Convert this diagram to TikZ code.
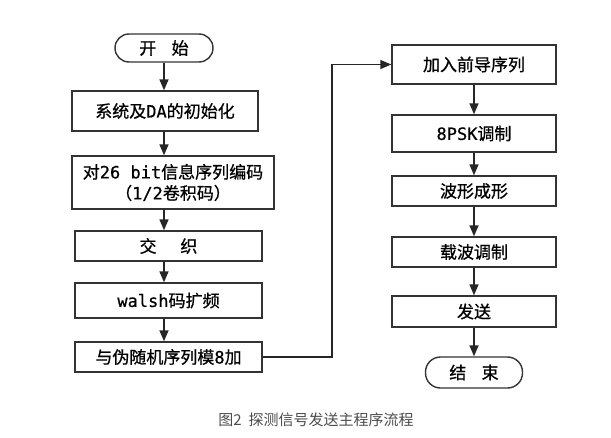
\documentclass[tikz,border=0pt]{standalone}
\usepackage{fontspec}
\setmainfont{Noto Sans CJK SC}
\newfontfamily\cjk{Noto Sans CJK SC}[FakeBold=0.8]
\newfontfamily\capfont{Noto Sans CJK SC}
\newfontfamily\lat{DejaVu Sans Mono}[FakeBold=0.6]
\usetikzlibrary{arrows.meta,positioning}
\tikzset{
  box/.style={draw=black!80, line width=1.4pt, fill=white, inner sep=0pt, align=center, font=\cjk\fontsize{17}{21}\selectfont},
  term/.style={box, rounded corners=14pt},
  arr/.style={draw=black!85, line width=1.4pt, -{Triangle[length=11pt,width=9pt]}},
}
\begin{document}
\begin{tikzpicture}[x=1pt,y=-1pt]
\path[fill=white] (0,0) rectangle (611,437);
\useasboundingbox (0,0) rectangle (611,437);
% left column
\node[term, minimum width=98pt, minimum height=28pt] (start) at (164,48) {开\hspace{0.9em}始};
\node[box, minimum width=186pt, minimum height=40pt] (b1) at (165,111) {系统及{\lat DA}的初始化};
\node[box, minimum width=202pt, minimum height=53pt] (b2) at (173,182.5) {对{\lat 26 bit}信息序列编码\\（{\lat 1/2}卷积码）};
\node[box, minimum width=187pt, minimum height=30pt] (b3) at (168.5,246) {交\hspace{1.4em}织};
\node[box, minimum width=187pt, minimum height=35pt] (b4) at (168.5,300.5) {{\lat walsh}码扩频};
\node[box, minimum width=187pt, minimum height=30pt] (b5) at (168.5,357) {与伪随机序列模{\lat 8}加};
% right column
\node[box, minimum width=164pt, minimum height=39pt] (r1) at (474,64.5) {加入前导序列};
\node[box, minimum width=164pt, minimum height=37pt] (r2) at (474,133.5) {{\lat 8PSK}调制};
\node[box, minimum width=164pt, minimum height=30pt] (r3) at (474,191) {波形成形};
\node[box, minimum width=164pt, minimum height=30pt] (r4) at (474,252) {载波调制};
\node[box, minimum width=164pt, minimum height=31pt] (r5) at (474,311.5) {发送};
\node[term, rounded corners=15pt, minimum width=97pt, minimum height=31pt] (end) at (474,372.5) {结\hspace{0.9em}束};
% caption
\node[font=\capfont\fontsize{15}{17}\selectfont, text=black!70] (cap) at (316,420) {图2\ \ 探测信号发送主程序流程};
% arrows left
\draw[arr] (start.south) -- (b1.north -| start);
\draw[arr] (b1.south -| start) -- (b2.north -| start);
\draw[arr] (b2.south -| start) -- (b3.north -| start);
\draw[arr] (b3.south -| start) -- (b4.north -| start);
\draw[arr] (b4.south -| start) -- (b5.north -| start);
% connector
\coordinate (cx) at (332,200);
\draw[arr] (b5.east) -- (b5.east -| cx) -- (cx |- r1.west) -- (r1.west);
% arrows right
\draw[arr] (r1.south) -- (r2.north);
\draw[arr] (r2.south) -- (r3.north);
\draw[arr] (r3.south) -- (r4.north);
\draw[arr] (r4.south) -- (r5.north);
\draw[arr] (r5.south) -- (end.north);
\end{tikzpicture}
\end{document}
